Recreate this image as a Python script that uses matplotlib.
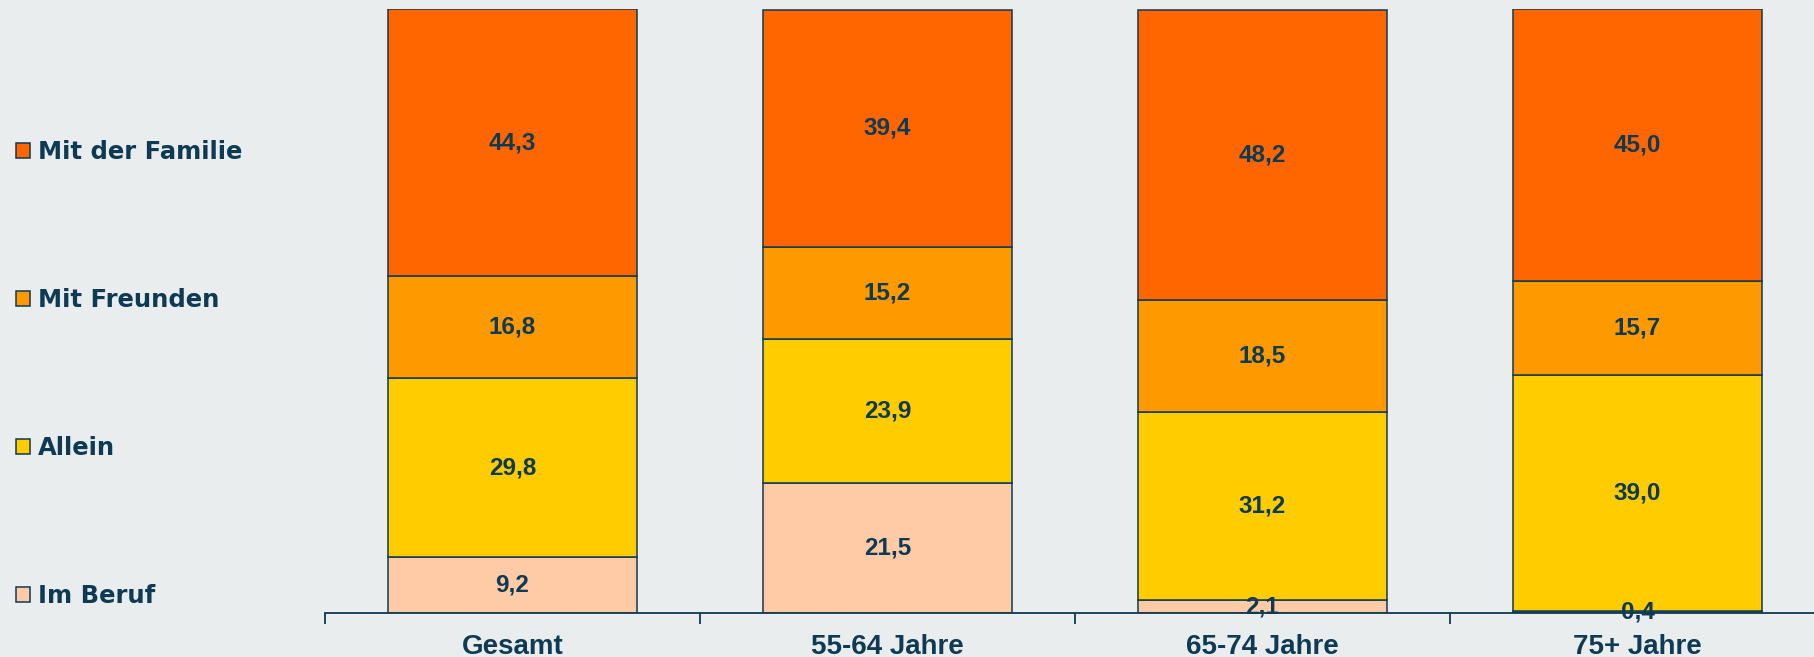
import numpy as np
import matplotlib.pyplot as plt

gruppen = ["Gesamt", "55-64 Jahre", "65-74 Jahre", "75+ Jahre"]
im_beruf = [9.2, 21.5, 2.1, 0.4]
allein = [29.8, 23.9, 31.2, 39.0]
mit_freunden = [16.8, 15.2, 18.5, 15.7]
mit_familie = [44.3, 39.4, 48.2, 45.0]

serien = [("Im Beruf", im_beruf, "#ffcba6"),
          ("Allein", allein, "#ffcc00"),
          ("Mit Freunden", mit_freunden, "#ff9900"),
          ("Mit der Familie", mit_familie, "#ff6600")]

bg = "#e9edee"
dunkel = "#0e3a54"

fig = plt.figure(figsize=(18.14, 6.57), dpi=100, facecolor=bg)
ax = fig.add_axes([325/1814, 44/657, 1500/1814, 604/657])
ax.set_facecolor(bg)

x = np.arange(len(gruppen))
unten = np.zeros(len(gruppen))
balken = []
for name, werte, farbe in serien:
    b = ax.bar(x, werte, width=0.665, bottom=unten, color=farbe,
               edgecolor=dunkel, linewidth=1.1, label=name)
    ax.bar_label(b, labels=[f"{v:.1f}".replace(".", ",") for v in werte],
                 label_type="center", fontsize=17.5, fontweight="bold",
                 color=dunkel, family=["Liberation Sans", "DejaVu Sans"])
    balken.append(b)
    unten += np.array(werte)

ax.set_xlim(-0.5, 3.5)
ax.set_ylim(0, 100.1)
for s in ["left", "right", "top"]:
    ax.spines[s].set_visible(False)
ax.spines["bottom"].set_color(dunkel)
ax.spines["bottom"].set_linewidth(1.3)
ax.set_yticks([])

ax.set_xticks(np.arange(-0.5, 4.0, 1.0))
ax.set_xticklabels([])
ax.tick_params(axis="x", which="major", length=8, width=1.3, color=dunkel)
ax.set_xticks(x, minor=True)
ax.set_xticklabels(gruppen, minor=True, fontsize=20, fontweight="bold",
                   color=dunkel, family=["Liberation Sans", "DejaVu Sans"])
ax.tick_params(axis="x", which="minor", length=0, pad=15)

leg = fig.legend(handles=balken[::-1], loc="upper left",
                 bbox_to_anchor=(0.002, 0.805), frameon=False,
                 prop={"family": "DejaVu Sans", "weight": "bold", "size": 17.5},
                 handlelength=0.6, handleheight=0.6, handletextpad=0.32,
                 labelspacing=5.1, borderpad=0)
for t in leg.get_texts():
    t.set_color(dunkel)

fig.savefig("out.png", dpi=100, facecolor=bg)
